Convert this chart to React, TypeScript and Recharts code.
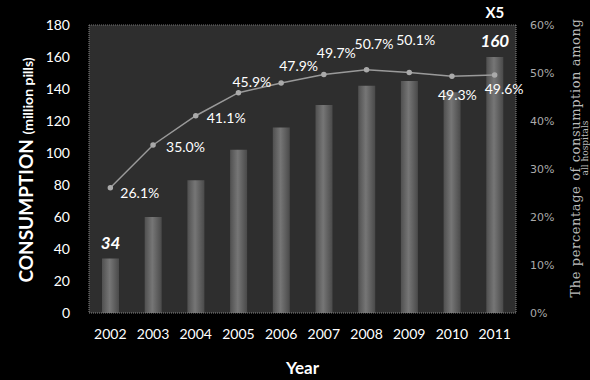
import { ComposedChart, Bar, Line, XAxis, YAxis, CartesianGrid, LabelList, ReferenceLine } from "recharts"

const years = ["2002", "2003", "2004", "2005", "2006", "2007", "2008", "2009", "2010", "2011"]
const consumption = [34, 60, 83, 102, 116, 130, 142, 145, 138, 160]
const percentage = [26.1, 35.0, 41.1, 45.9, 47.9, 49.7, 50.7, 50.1, 49.3, 49.6]
const leftTicks = [0, 20, 40, 60, 80, 100, 120, 140, 160, 180]
const rightTicks = [0, 10, 20, 30, 40, 50, 60]
const barLabels = ["34", "", "", "", "", "", "", "", "", "160"]

// where each percent label sits relative to its point
const pctOffsets = [
  [10, 7], [13, 3], [11, 4], [-6, -9], [-2, -16], [-7, -20], [-12, -24], [-13, -31], [-14, 20], [-10, 16],
]

const data = years.map((year, i) => ({
  year,
  consumption: consumption[i],
  percentage: percentage[i],
  barLabel: barLabels[i],
}))

const font = "Lato, 'Open Sans', sans-serif"

const PctLabel = (props: any) => {
  const { x, y, value, index } = props
  const [dx, dy] = pctOffsets[index]
  return (
    <text x={x + dx} y={y + dy} fill="#fff" fontSize={14} fontFamily={font} dominantBaseline="middle">
      {value.toFixed(1)}%
    </text>
  )
}

const BarTopLabel = (props: any) => {
  const { x, y, width, value, index } = props
  if (!value) return null
  const cx = x + width / 2
  return (
    <g>
      <text x={cx} y={y - 10} fill="#fff" fontSize={17} fontStyle="italic" fontWeight="bold" fontFamily={font} textAnchor="middle">
        {value}
      </text>
      {index === years.length - 1 && (
        <text x={cx} y={18} fill="#fff" fontSize={15} fontWeight="bold" fontFamily={font} textAnchor="middle">
          X5
        </text>
      )}
    </g>
  )
}

const LeftTitle = () => (
  <text x={33} y={170} transform="rotate(-90 33 170)" textAnchor="middle" fill="#fff" fontFamily={font} fontWeight="bold">
    <tspan fontSize={19}>CONSUMPTION </tspan>
    <tspan fontSize={14}>(million pills)</tspan>
  </text>
)

const RightTitle = () => (
  <g>
    <text x={580} y={158} transform="rotate(-90 580 158)" textAnchor="middle" fill="#bbb" fontSize={13} letterSpacing={0.6} fontFamily="'DejaVu Serif', serif">
      The percentage of consumption among
    </text>
    <text x={588} y={148} transform="rotate(-90 588 148)" textAnchor="middle" fill="#bbb" fontSize={9} fontFamily="'DejaVu Serif', serif">
      all hospitals
    </text>
  </g>
)

export default function App() {
  return (
    <div style={{ position: "absolute", left: 0, top: 0, width: 590, height: 380, background: "#000" }}>
      <ComposedChart width={590} height={380} data={data} margin={{ top: 25, right: 0, bottom: 0, left: 0 }}>
        <defs>
          <linearGradient id="barFill" x1="0" y1="0" x2="1" y2="0">
            <stop offset="0%" stopColor="#505050" />
            <stop offset="45%" stopColor="#767676" />
            <stop offset="100%" stopColor="#4a4a4a" />
          </linearGradient>
        </defs>
        <CartesianGrid fill="#2e2e2e" horizontal={false} vertical={false} />
        <XAxis
          dataKey="year"
          height={67}
          tickLine={false}
          axisLine={{ stroke: "#888", strokeDasharray: "1 1" }}
          tick={{ fill: "#fff", fontSize: 14, fontFamily: font }}
          tickMargin={10}
          label={{ value: "Year", position: "insideBottom", offset: 6, fill: "#fff", fontSize: 17, fontWeight: "bold", fontFamily: font }}
        />
        <YAxis
          yAxisId="left"
          width={89}
          domain={[0, 180]}
          ticks={leftTicks}
          interval={0}
          tickLine={false}
          axisLine={{ stroke: "#888", strokeDasharray: "1 1" }}
          tick={{ fill: "#fff", fontSize: 14, fontFamily: font }}
          tickMargin={13}
          label={{ content: () => <LeftTitle /> }}
        />
        <YAxis
          yAxisId="right"
          orientation="right"
          width={74}
          domain={[0, 60]}
          ticks={rightTicks}
          interval={0}
          tickFormatter={(v) => `${v}%`}
          tickLine={false}
          axisLine={{ stroke: "#888", strokeDasharray: "1 1" }}
          tick={{ fill: "#aaa", fontSize: 11, fontFamily: "'DejaVu Sans', sans-serif" }}
          tickMargin={8}
          label={{ content: () => <RightTitle /> }}
        />
        <ReferenceLine yAxisId="left" y={180} stroke="#777" strokeDasharray="1 1" />
        <Bar yAxisId="left" dataKey="consumption" barSize={17} fill="url(#barFill)" isAnimationActive={false}>
          <LabelList dataKey="barLabel" content={<BarTopLabel />} />
        </Bar>
        <Line
          yAxisId="right"
          dataKey="percentage"
          stroke="#9a9a9a"
          strokeWidth={1.5}
          dot={{ r: 2, fill: "#aaa", stroke: "#aaa" }}
          isAnimationActive={false}
        >
          <LabelList dataKey="percentage" content={<PctLabel />} />
        </Line>
      </ComposedChart>
    </div>
  )
}
